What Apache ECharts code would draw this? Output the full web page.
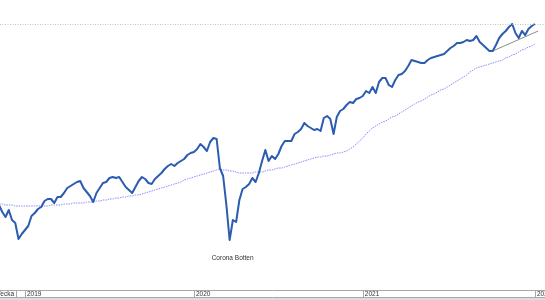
<!DOCTYPE html>
<html>
<head>
<meta charset="utf-8">
<script src="https://cdn.jsdelivr.net/npm/echarts@6/dist/echarts.min.js"></script>
<style>
html,body{margin:0;padding:0;background:#fff;}
#chart{width:545px;height:300px;}
</style>
</head>
<body>
<div id="chart"></div>
<script>
// Weekly index values (week offset from week 1 of 2019)
const firstWeek = -8;
const indexValues = [
  1420,1385,1360,1395,1345,1330,1250,1275,
  1295,1315,1365,1380,1400,1410,1440,1450,1450,1430,
  1460,1460,1480,1505,1515,1525,1535,1540,1505,1485,
  1465,1435,1480,1505,1530,1535,1555,1560,1555,1560,
  1535,1510,1495,1480,1510,1540,1560,1550,1530,1525,
  1550,1565,1580,1600,1615,1625,1615,1630,1640,1650,
  1670,1680,1685,1700,1725,1710,1690,1735,1755,1750,
  1605,1565,1420,1245,1345,1335,1445,1500,1510,1525,
  1555,1535,1580,1640,1695,1640,1665,1650,1675,1715,
  1740,1740,1740,1775,1785,1800,1830,1815,1805,1795,
  1800,1790,1855,1865,1850,1775,1860,1890,1900,1920,
  1935,1930,1950,1955,1965,1990,1980,2010,1980,2035,
  2055,2055,2020,2010,2045,2070,2075,2090,2115,2145,
  2140,2135,2130,2130,2145,2155,2160,2165,2170,2175,
  2190,2205,2215,2230,2230,2235,2245,2240,2245,2265,
  2235,2220,2205,2190,2190,2220,2255,2275,2290,2310,
  2325,2280,2255,2290,2270,2300,2315,2325
];
const avgValues = [
  1425,1425,1420,1420,1420,
  1415,1415,1415,1415,1415,1415,1415,1415,1415,1415,1415,
  1420,1420,1420,1420,1425,1425,1425,1430,1430,1430,1430,1435,1435,1435,
  1440,1440,1445,1445,1450,1450,1455,1455,1460,1460,1465,1465,1470,1470,
  1475,1480,1485,1490,1495,1500,1505,1510,1515,1520,1525,1530,1535,
  1545,1550,1555,1560,1565,1570,1575,1580,1585,1590,1595,1600,
  1595,1595,1590,1590,1585,
  1580,1580,1580,1580,1580,
  1585,1585,1585,
  1590,1595,1595,1600,1605,1605,
  1610,1615,1620,1625,1630,1635,1640,1645,1650,1655,
  1660,1660,1665,1665,1670,1675,1680,1680,1685,1690,
  1700,1710,1725,1740,1755,1775,1790,1805,1815,1825,
  1835,1840,1850,1860,1865,1875,1885,1895,1905,1915,
  1925,1935,1940,1950,1960,1970,1975,1985,1995,2000,
  2010,2020,2030,2040,2050,2060,2070,2085,2095,2105,
  2110,2115,2120,2125,2130,2135,2140,2145,2155,2160,
  2170,2175,2185,2195,2200,2210,2215,2225
];
const trendWeeks = [144, 158];
const trendValues = [2190, 2290];
const resistanceLevel = 2325;
const yearWeeks = [0, 52, 104, 157];
const yearLabels = ['2019', '2020', '2021', '2022'];
const annotation = {week: 63, value: 1245, text: 'Corona Botten'};

const mainData = indexValues.map((v, i) => [firstWeek + i, v]);
const avgData = avgValues.map((v, i) => [firstWeek + i, v]);
const trendData = trendWeeks.map((w, i) => [w, trendValues[i]]);

const chart = echarts.init(document.getElementById('chart'), null, {renderer: 'canvas'});
const font = 'Liberation Sans, Arial, sans-serif';
chart.setOption({
  animation: false,
  backgroundColor: '#ffffff',
  grid: {left: 0, right: 0, top: 0, bottom: 10, containLabel: false, outerBoundsMode: 'none'},
  xAxis: {
    type: 'value',
    min: -7.7,
    max: 160.1,
    splitLine: {show: false},
    axisLine: {show: true, lineStyle: {color: '#a8a8a8', width: 1}},
    axisTick: {show: true, customValues: yearWeeks, length: 7, lineStyle: {color: '#a8a8a8'}},
    axisLabel: {
      show: true,
      customValues: yearWeeks,
      formatter: function (val) {
        const idx = yearWeeks.indexOf(val);
        return idx >= 0 ? yearLabels[idx] : '';
      },
      align: 'left',
      verticalAlign: 'middle',
      margin: 4,
      padding: [0, 0, 0, 2],
      fontSize: 6.5,
      fontFamily: font,
      color: '#333333',
      hideOverlap: false
    }
  },
  yAxis: {
    type: 'value',
    min: 995,
    max: 2445,
    show: false,
    splitLine: {show: false}
  },
  series: [
    {
      name: 'Medelvärde',
      type: 'line',
      data: avgData,
      showSymbol: false,
      symbol: 'none',
      smooth: 0.3,
      lineStyle: {color: '#8a8aff', width: 1, type: [1.5, 1]},
      z: 2
    },
    {
      name: 'Trend',
      type: 'line',
      data: trendData,
      symbol: 'none',
      lineStyle: {color: '#8c8c8c', width: 1},
      z: 3
    },
    {
      name: 'Index',
      type: 'line',
      data: mainData,
      symbol: 'none',
      showSymbol: false,
      lineStyle: {color: '#2b5cb0', width: 2, join: 'round'},
      z: 4,
      markLine: {
        silent: true,
        symbol: ['none', 'none'],
        label: {show: false},
        lineStyle: {color: '#b7c7c7', width: 1, type: [1, 1.5]},
        data: [{yAxis: resistanceLevel}]
      },
      markPoint: {
        silent: true,
        symbol: 'circle',
        symbolSize: 1,
        itemStyle: {color: 'rgba(0,0,0,0)'},
        label: {
          show: true,
          position: 'bottom',
          distance: 14,
          offset: [3, 0],
          formatter: annotation.text,
          fontSize: 6.5,
          fontFamily: font,
          color: '#333333'
        },
        data: [{coord: [annotation.week, annotation.value], name: annotation.text}]
      }
    }
  ],
  graphic: [
    {type: 'line', shape: {x1: 0, y1: 297.5, x2: 545, y2: 297.5}, style: {stroke: '#a8a8a8', lineWidth: 1}, silent: true},
    {type: 'line', shape: {x1: 16.5, y1: 290, x2: 16.5, y2: 297}, style: {stroke: '#a8a8a8', lineWidth: 1}, silent: true},
    {type: 'rect', shape: {x: 0, y: 298, width: 545, height: 2}, style: {fill: '#dcdcdc'}, silent: true},
    {type: 'text', x: 14, y: 294, style: {text: 'Vecka', fontSize: 6.5, fontFamily: font, fill: '#333333', align: 'right', verticalAlign: 'middle'}, silent: true}
  ]
});
</script>
</body>
</html>
